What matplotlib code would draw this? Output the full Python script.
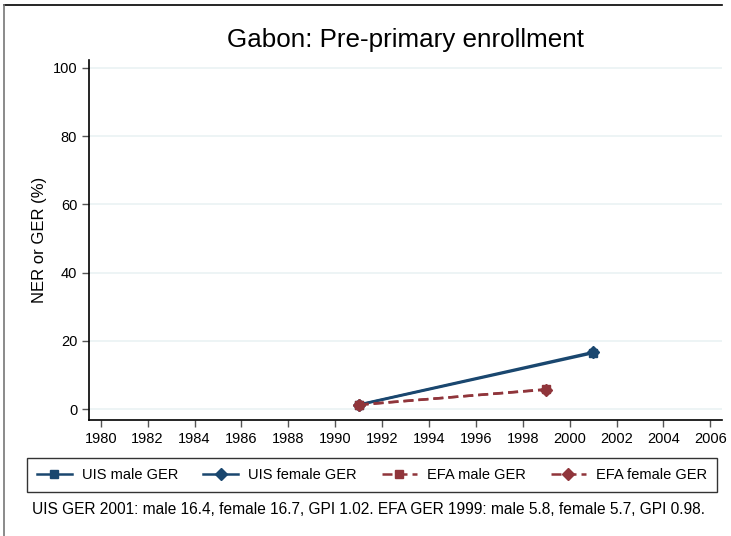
import matplotlib
matplotlib.use("Agg")
import matplotlib.pyplot as plt
from matplotlib.lines import Line2D

plt.rcParams["font.family"] = ["Liberation Sans", "DejaVu Sans"]

uis_years = [1991, 2001]
uis_male = [1.2, 16.4]
uis_female = [1.3, 16.7]
efa_years = [1991, 1999]
efa_male = [1.2, 5.8]
efa_female = [1.3, 5.7]
xticks = list(range(1980, 2007, 2))
yticks = [0, 20, 40, 60, 80, 100]

navy = "#1a476f"
maroon = "#90353b"

fig = plt.figure(figsize=(7.31, 5.36), dpi=100)
ax = fig.add_axes([89 / 731, 116 / 536, 633 / 731, 360 / 536])

ax.plot(uis_years, uis_male, "-", color=navy, lw=1.8, marker="s", ms=6)
ax.plot(uis_years, uis_female, "-", color=navy, lw=1.8, marker="D", ms=6)
ax.plot(efa_years, efa_male, "--", color=maroon, lw=1.8, marker="s", ms=6, dashes=(4, 2))
ax.plot(efa_years, efa_female, "--", color=maroon, lw=1.8, marker="D", ms=6, dashes=(4, 2))

ax.set_xlim(1979.5, 2006.5)
ax.set_ylim(-3.2, 102.3)
ax.set_xticks(xticks)
ax.set_yticks(yticks)
ax.tick_params(labelsize=10.5, color="#555555", length=5, width=1)
for y in yticks:
    ax.axhline(y, color="#eaf2f3", lw=1.2, zorder=0)
for s in ["top", "right"]:
    ax.spines[s].set_visible(False)
for s in ["left", "bottom"]:
    ax.spines[s].set_linewidth(1.2)
ax.set_ylabel("NER or GER (%)", fontsize=12, labelpad=4)

fig.text(0.555, 1 - 40 / 536, "Gabon: Pre-primary enrollment", ha="center", va="center", fontsize=18.7)

handles = [
    Line2D([], [], color=navy, lw=1.8, marker="s", ms=6),
    Line2D([], [], color=navy, lw=1.8, marker="D", ms=6),
    Line2D([], [], color=maroon, lw=1.8, marker="s", ms=6, ls="--", dashes=(4, 2)),
    Line2D([], [], color=maroon, lw=1.8, marker="D", ms=6, ls="--", dashes=(4, 2)),
]
labels = ["UIS male GER", "UIS female GER", "EFA male GER", "EFA female GER"]
leg = fig.legend(handles, labels, ncol=4, loc="center", bbox_to_anchor=(372 / 731, 1 - 475 / 536),
                 fontsize=10.5, frameon=True, fancybox=False, edgecolor="black",
                 handlelength=2.4, handletextpad=0.7, columnspacing=1.7, borderpad=0.7)
leg.get_frame().set_linewidth(1.0)

fig.text(32 / 731, 1 - 510 / 536,
         "UIS GER 2001: male 16.4, female 16.7, GPI 1.02. EFA GER 1999: male 5.8, female 5.7, GPI 0.98.",
         fontsize=11.2, va="center")

# outer frame (top and left edges)
fig.add_artist(Line2D([4 / 731, 722 / 731], [1 - 5 / 536, 1 - 5 / 536], color="black", lw=1.2))
fig.add_artist(Line2D([4 / 731, 4 / 731], [0, 1 - 5 / 536], color="#777777", lw=1.2))

fig.savefig("out.png", dpi=100)
